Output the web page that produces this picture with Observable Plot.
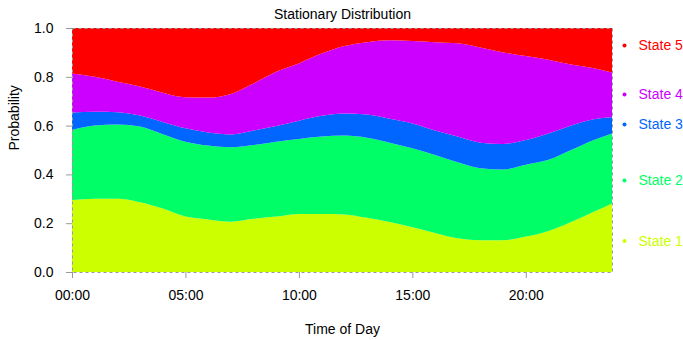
<!DOCTYPE html>
<html>
<head>
<meta charset="utf-8">
<script src="https://cdn.jsdelivr.net/npm/d3@7"></script>
<script src="https://cdn.jsdelivr.net/npm/@observablehq/plot@0.6"></script>
<style>
  html, body { margin: 0; padding: 0; background: #fff; }
  #chart svg { display: block; }
</style>
</head>
<body>
<div id="chart"></div>
<script>
// Time of day (hours)
const hours = [0,1,2,3,4,5,6,7,8,9,10,11,12,13,14,15,16,17,18,19,20,21,22,23,23.8];

// Stationary probabilities per state
const state1 = [.295,.300,.300,.286,.260,.227,.215,.206,.218,.227,.238,.238,.236,.222,.205,.183,.160,.138,.130,.130,.145,.168,.205,.247,.281];
const state2 = [.287,.300,.305,.310,.305,.307,.303,.305,.302,.307,.307,.317,.323,.328,.325,.324,.320,.312,.295,.290,.295,.292,.295,.294,.287];
const state3 = [.072,.057,.050,.045,.050,.055,.054,.053,.060,.064,.075,.085,.091,.095,.098,.102,.100,.105,.105,.105,.101,.108,.100,.085,.066];
const state4 = [.160,.143,.125,.119,.120,.127,.143,.166,.193,.223,.235,.255,.276,.297,.322,.338,.362,.382,.390,.375,.344,.302,.250,.209,.184];
const state5 = [.186,.200,.220,.240,.265,.284,.285,.270,.227,.179,.145,.105,.074,.058,.050,.053,.058,.063,.080,.100,.115,.130,.150,.165,.182];

const stateNames = ["State 1","State 2","State 3","State 4","State 5"];
const stateColors = ["#CCFF00","#00FF66","#0066FF","#CC00FF","#FF0000"];
// legend anchor levels (probability)
const legendLevels = [0.129, 0.377, 0.607, 0.730, 0.930];

const yTicks = [0, 0.2, 0.4, 0.6, 0.8, 1.0];
const xTicks = [0, 5, 10, 15, 20];
const xTickLabels = ["00:00","05:00","10:00","15:00","20:00"];

const series = [state1, state2, state3, state4, state5];
const rows = [];
series.forEach((vals, si) => {
  vals.forEach((v, i) => rows.push({hour: hours[i], state: stateNames[si], p: v}));
});
const legend = stateNames.map((s, i) => ({state: s, level: legendLevels[i]}));

const chart = Plot.plot({
  width: 683,
  height: 340,
  marginLeft: 72,
  marginRight: 71,
  marginTop: 28,
  marginBottom: 68,
  style: {fontFamily: "'Liberation Sans', Arial, sans-serif", fontSize: "14px", color: "#000", background: "#fff"},
  x: {domain: [0, 23.8]},
  y: {domain: [0, 1]},
  color: {domain: stateNames, range: stateColors},
  marks: [
    Plot.areaY(rows, {x: "hour", y: "p", z: "state", fill: "state", curve: "monotone-x", order: null}),
    Plot.frame({stroke: "#999", strokeDasharray: "3,3"}),
    // y axis
    Plot.axisY({ticks: yTicks, tickSize: 6, tickFormat: () => "", color: "#999", label: null}),
    Plot.axisY({ticks: yTicks, tickSize: 0, tickPadding: 19, tickFormat: d => d.toFixed(1), color: "#000", fontSize: 14, label: null}),
    // x axis
    Plot.axisX({ticks: xTicks, tickSize: 6, tickFormat: () => "", color: "#999", label: null}),
    Plot.axisX({ticks: xTicks, tickSize: 0, tickPadding: 18, tickFormat: d => xTickLabels[xTicks.indexOf(d)], color: "#000", fontSize: 14, label: null}),
    // titles
    Plot.text(["Stationary Distribution"], {frameAnchor: "top", dy: -19, fontSize: 14, fill: "#000"}),
    Plot.text(["Time of Day"], {frameAnchor: "bottom", dy: 61, fontSize: 14, fill: "#000"}),
    Plot.text(["Probability"], {frameAnchor: "left", dx: -58, rotate: -90, fontSize: 14, fill: "#000"}),
    // legend
    Plot.dot(legend, {y: "level", frameAnchor: "right", dx: 12, r: 2, fill: "state", stroke: null}),
    Plot.text(legend, {y: "level", text: "state", frameAnchor: "right", dx: 26, textAnchor: "start", fill: "state", fontSize: 14})
  ]
});
document.getElementById("chart").append(chart);
</script>
</body>
</html>
